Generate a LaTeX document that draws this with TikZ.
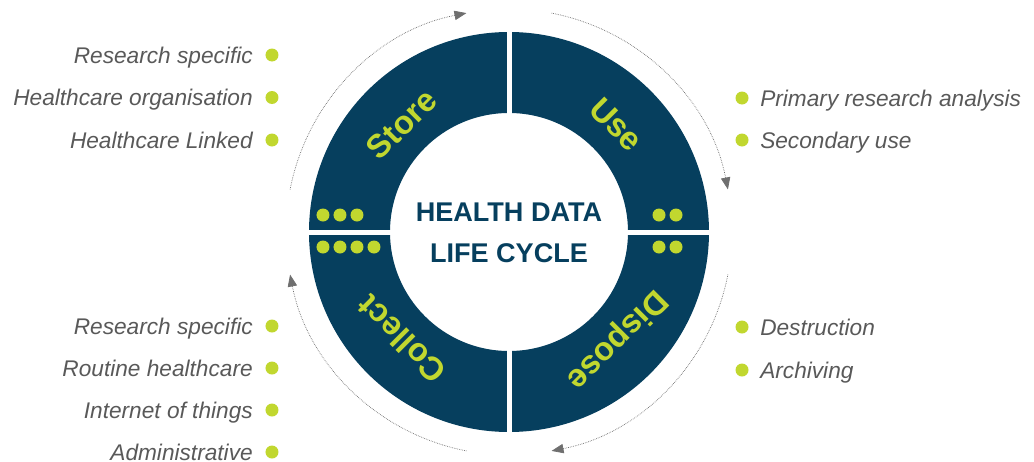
\documentclass[tikz,border=0pt]{standalone}
\usepackage{fontspec}
\setmainfont{Liberation Sans}
\usetikzlibrary{arrows.meta}
\definecolor{ringColor}{HTML}{063F5E}
\definecolor{limeColor}{HTML}{C1D72F}
\definecolor{textGray}{HTML}{595959}
\definecolor{arrowGray}{HTML}{6F6F6F}

\begin{document}
\begin{tikzpicture}[x=0.75pt, y=0.75pt,
    bullet/.style={circle, fill=limeColor, inner sep=0pt, minimum size=9.75pt},
    itemText/.style={font=\fontsize{17}{20}\selectfont\itshape, text=textGray, inner sep=0pt},
    phaseText/.style={font=\fontsize{24.5}{28}\selectfont\bfseries, text=limeColor, inner sep=0pt},
    titleText/.style={font=\fontsize{20.3}{30.75}\selectfont\bfseries, text=ringColor, align=center},
    cycleArrow/.style={-{Triangle[length=9pt, width=7pt]}, arrowGray, line width=0.55pt, dash pattern=on 0.5pt off 0.8pt}]
    % --- PARAMETRY ---
    \pgfmathsetmacro{\outerR}{200}    % promien zewnetrzny pierscienia
    \pgfmathsetmacro{\innerR}{119}    % promien wewnetrzny
    \pgfmathsetmacro{\labelR}{152}    % promien napisow faz
    \pgfmathsetmacro{\arrowR}{223}    % promien strzalek cyklu

    \useasboundingbox (-509,-229) rectangle (525,232);

    % Pierscien
    \fill[ringColor, even odd rule] (0,0) circle (\outerR) (0,0) circle (\innerR);
    \draw[white, line width=3.75pt] (0,203) -- (0,-203);
    \draw[white, line width=3.75pt] (-203,0) -- (203,0);

    % Napisy faz
    \node[phaseText, rotate=45] (store) at (135:\labelR) {Store};
    \node[phaseText, rotate=-45] (use) at (45:\labelR) {Use};
    \node[phaseText, rotate=135] (collect) at (225:\labelR) {Collect};
    \node[phaseText, rotate=-135] (dispose) at (-45:\labelR) {Dispose};

    % Kropki w pierscieniu
    \foreach \dx in {-186,-169,-152} \fill[limeColor] (\dx,17) circle (6.5);
    \foreach \dx in {150,167} \fill[limeColor] (\dx,17) circle (6.5);
    \foreach \dx in {-186,-169,-152,-135} \fill[limeColor] (\dx,-15) circle (6.5);
    \foreach \dx in {150,167} \fill[limeColor] (\dx,-15) circle (6.5);

    % Srodek
    \node[titleText] (title) at (0,-0.5) {HEALTH DATA\\LIFE CYCLE};

    % Strzalki cyklu
    \draw[cycleArrow] (169:\arrowR) arc[start angle=169, end angle=101, radius=\arrowR];
    \draw[cycleArrow] (79:\arrowR) arc[start angle=79, end angle=11, radius=\arrowR];
    \draw[cycleArrow] (-11:\arrowR) arc[start angle=-11, end angle=-79, radius=\arrowR];
    \draw[cycleArrow] (-101:\arrowR) arc[start angle=-101, end angle=-169, radius=\arrowR];

    % --- LISTY ---
    \foreach \txt [count=\i] in {Research specific, Healthcare organisation, Healthcare Linked} {
        \pgfmathsetmacro{\rowY}{177 - 42.5*(\i-1)}
        \node[bullet] (storeDot\i) at (-237,\rowY) {};
        \node[itemText, anchor=base east] (storeItem\i) at (-256,\rowY-8) {\txt};
    }
    \foreach \txt [count=\i] in {Primary research analysis, Secondary use} {
        \pgfmathsetmacro{\rowY}{134 - 42*(\i-1)}
        \node[bullet] (useDot\i) at (233,\rowY) {};
        \node[itemText, anchor=base west] (useItem\i) at (251,\rowY-8) {\txt};
    }
    \foreach \txt [count=\i] in {Research specific, Routine healthcare, Internet of things, Administrative} {
        \pgfmathsetmacro{\rowY}{-94 - 42*(\i-1)}
        \node[bullet] (collectDot\i) at (-237,\rowY) {};
        \node[itemText, anchor=base east] (collectItem\i) at (-256,\rowY-8) {\txt};
    }
    \foreach \txt [count=\i] in {Destruction, Archiving} {
        \pgfmathsetmacro{\rowY}{-95 - 43*(\i-1)}
        \node[bullet] (disposeDot\i) at (233,\rowY) {};
        \node[itemText, anchor=base west] (disposeItem\i) at (251,\rowY-8) {\txt};
    }
\end{tikzpicture}
\end{document}
